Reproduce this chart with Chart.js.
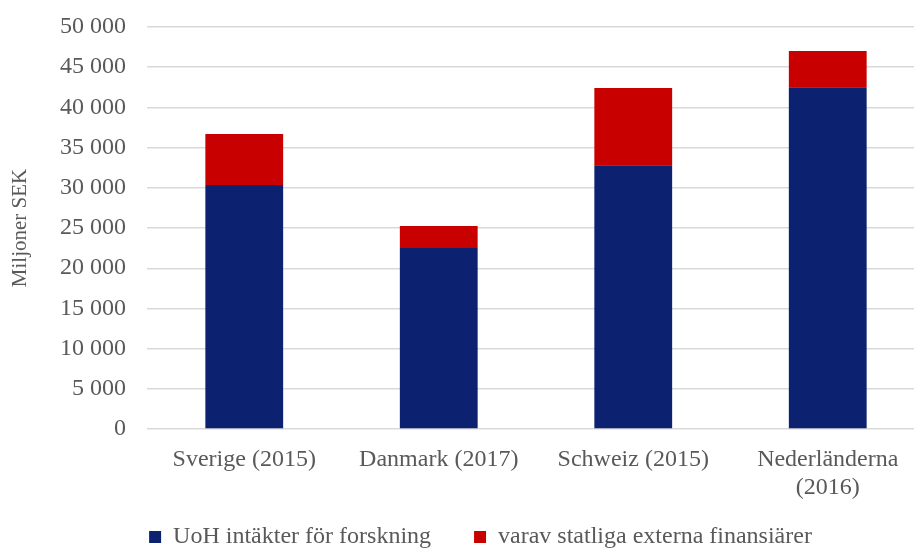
<!DOCTYPE html>
<html>
<head>
<meta charset="utf-8">
<script src="https://cdn.jsdelivr.net/npm/chart.js@4/dist/chart.umd.min.js"></script>
<style>
  html, body { margin: 0; padding: 0; overflow: hidden; background: #fff; }
</style>
</head>
<body>
<canvas id="research" width="930" height="559"></canvas>
<script>
const countries = ['Sverige (2015)', 'Danmark (2017)', 'Schweiz (2015)', ['Nederländerna', '(2016)']];
const researchIncome = [30350, 22500, 32800, 42500];   // UoH intäkter för forskning
const stateExternal = [6350, 2750, 9600, 4500];        // varav statliga externa finansiärer
const yTicks = [0, 5000, 10000, 15000, 20000, 25000, 30000, 35000, 40000, 45000, 50000];

const serif = "'Liberation Serif', 'Times New Roman', serif";
const textGrey = '#595959';

function spaced(v) {
    return String(v).replace(/\B(?=(\d{3})+(?!\d))/g, ' ');
}

// legenden lite åt höger, och låt x-etiketterna (två rader) få plats
const layoutTweaks = {
    id: 'layoutTweaks',
    afterLayout(chart) {
        chart.legend.left += 18;
        chart.legend.right += 18;
        chart.scales.x.bottom += 30;
    }
};

const data = {
    labels: countries,
    datasets: [
        {
            label: 'UoH intäkter för forskning',
            data: researchIncome,
            backgroundColor: '#0c2270',
            barPercentage: 0.4,
            categoryPercentage: 1,
        },
        {
            label: 'varav statliga externa finansiärer',
            data: stateExternal,
            backgroundColor: '#c80000',
            barPercentage: 0.4,
            categoryPercentage: 1,
        }
    ]
};

const options = {
    responsive: false,
    animation: false,
    layout: {
        padding: { top: 27, right: 5, left: 0, bottom: 0 }
    },
    plugins: {
        legend: {
            position: 'bottom',
            labels: {
                boxWidth: 12,
                boxHeight: 12,
                padding: 43,
                color: textGrey,
                font: { family: serif, size: 24 },
            },
        },
        tooltip: { enabled: false },
    },
    scales: {
        x: {
            stacked: true,
            grid: { display: false, drawTicks: false },
            border: { display: false },
            ticks: {
                padding: 16,
                color: textGrey,
                font: { family: serif, size: 24 },
                maxRotation: 0,
            },
            afterFit(scale) {
                scale.height = 53;
            },
        },
        y: {
            stacked: true,
            min: 0,
            max: 50000,
            afterBuildTicks(scale) {
                scale.ticks = yTicks.map(v => ({ value: v }));
            },
            grid: { color: '#d9d9d9', lineWidth: 1.4, drawTicks: false },
            border: { display: false },
            ticks: {
                padding: 21,
                color: textGrey,
                font: { family: serif, size: 24 },
                callback: v => spaced(v),
            },
            title: {
                display: true,
                text: 'Miljoner SEK',
                color: textGrey,
                font: { family: serif, size: 21 },
                padding: { top: 8, bottom: 0 },
            },
            afterFit(scale) {
                scale.width = 147;
                scale.paddingTop = 0;
                scale.paddingBottom = 0;
            },
        }
    }
};

new Chart(document.getElementById('research').getContext('2d'), {
    type: 'bar',
    data: data,
    options: options,
    plugins: [layoutTweaks],
});
</script>
</body>
</html>
